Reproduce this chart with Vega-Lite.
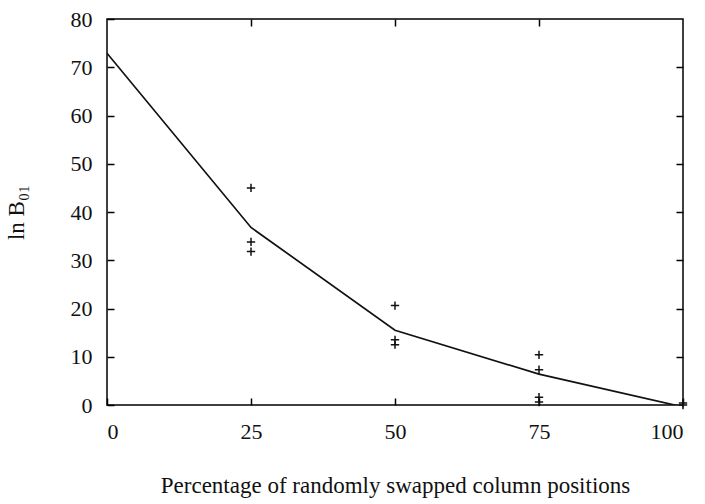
{
  "$schema": "https://vega.github.io/schema/vega-lite/v6.json",
  "width": 576,
  "height": 386,
  "autosize": {"type": "none"},
  "padding": {"left": 107, "top": 19, "right": 22, "bottom": 99},
  "background": "white",
  "config": {
    "view": {"stroke": "black", "strokeWidth": 1.5},
    "font": "Liberation Serif",
    "axis": {
      "labelFont": "Liberation Serif", "titleFont": "Liberation Serif",
      "labelFontSize": 22, "titleFontSize": 23, "labelColor": "#111", "titleColor": "#111",
      "titleFontWeight": "normal", "domain": false, "grid": false,
      "tickColor": "black", "tickSize": -7, "tickWidth": 1.5
    }
  },
  "datasets": {
    "pts": [
      {"pct": 25, "lnB": 45.0},
      {"pct": 25, "lnB": 33.8},
      {"pct": 25, "lnB": 31.8},
      {"pct": 50, "lnB": 20.6},
      {"pct": 50, "lnB": 13.5},
      {"pct": 50, "lnB": 12.5},
      {"pct": 75, "lnB": 10.4},
      {"pct": 75, "lnB": 7.3},
      {"pct": 75, "lnB": 1.6},
      {"pct": 75, "lnB": 0.6},
      {"pct": 100, "lnB": 0.4},
      {"pct": 100, "lnB": 0.0}
    ],
    "fit": [
      {"pct": 0, "lnB": 72.9},
      {"pct": 25, "lnB": 36.8},
      {"pct": 50, "lnB": 15.5},
      {"pct": 75, "lnB": 6.4},
      {"pct": 100, "lnB": -0.4}
    ]
  },
  "layer": [
    {
      "data": {"name": "fit"},
      "mark": {"type": "line", "color": "#111", "strokeWidth": 1.7, "clip": true},
      "encoding": {
        "x": {"field": "pct", "type": "quantitative", "scale": {"domain": [0, 100], "nice": false},
          "axis": {"orient": "bottom", "values": [0, 25, 50, 75, 100], "title": "Percentage of randomly swapped column positions", "labelPadding": 23, "titlePadding": 32}},
        "y": {"field": "lnB", "type": "quantitative", "scale": {"domain": [0, 80], "nice": false},
          "axis": {"orient": "left", "values": [0, 10, 20, 30, 40, 50, 60, 70, 80], "title": "ln B₀₁", "labelPadding": 22, "titlePadding": 42}}
      }
    },
    {
      "data": {"name": "pts"},
      "mark": {"type": "point", "shape": "M-1,0H1M0,-1V1", "filled": false, "color": "#111", "strokeWidth": 1.5, "size": 70, "opacity": 1},
      "encoding": {
        "x": {"field": "pct", "type": "quantitative", "scale": {"domain": [0, 100], "nice": false},
          "axis": {"orient": "top", "values": [25, 50, 75], "labels": false, "title": null}},
        "y": {"field": "lnB", "type": "quantitative", "scale": {"domain": [0, 80], "nice": false},
          "axis": {"orient": "right", "values": [10, 20, 30, 40, 50, 60, 70], "labels": false, "title": null}}
      }
    }
  ],
  "resolve": {"axis": {"x": "independent", "y": "independent"}}
}
